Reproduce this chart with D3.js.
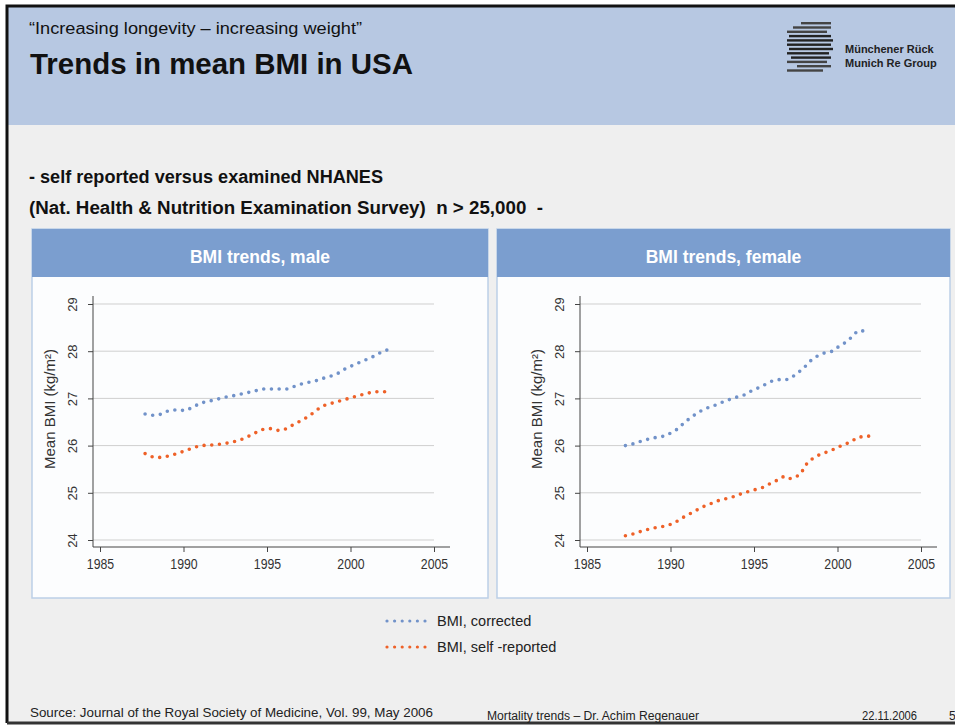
<!DOCTYPE html>
<html>
<head>
<meta charset="utf-8">
<style>
    body { margin: 0; background: #fff; }
    svg { display: block; font-family: Arial, "Liberation Sans", sans-serif; }
    .axis .domain { stroke: #444; }
    .axis .tick line { stroke: #444; }
    .axis .tick text { fill: #333; }
    .x.axis .tick text { font-size: 15px; }
    .y.axis .tick text { font-size: 13px; }
    .grid line { stroke: #cfcfcf; }
</style>
</head>
<body>
<svg width="955" height="725"></svg>

<script src="https://d3js.org/d3.v7.min.js"></script>
<script>
    // x ticks / y ticks
    let xTicks = [1985, 1990, 1995, 2000, 2005]
    let yTicks = [24, 25, 26, 27, 28, 29]

    // male: both series on the same year grid
    let maleYears = [1987.7, 1988.2, 1988.6, 1989.1, 1989.6, 1990.1, 1990.55, 1991.0, 1991.5, 1992.0,
        1992.4, 1992.9, 1993.4, 1993.8, 1994.3, 1994.7, 1995.2, 1995.7, 1996.2, 1996.6,
        1997.0, 1997.5, 1998.0, 1998.4, 1998.9, 1999.3, 1999.7, 2000.2, 2000.6, 2001.0,
        2001.5, 2001.9, 2002.4]
    let maleCorrected = [26.67, 26.64, 26.66, 26.74, 26.76, 26.74, 26.81, 26.90, 26.94, 26.98,
        27.02, 27.05, 27.09, 27.12, 27.16, 27.20, 27.20, 27.20, 27.20, 27.25,
        27.30, 27.34, 27.38, 27.43, 27.48, 27.54, 27.63, 27.71, 27.77, 27.83,
        27.91, 27.99, 28.05]
    let maleSelf = [25.83, 25.75, 25.75, 25.78, 25.83, 25.89, 25.95, 26.00, 26.01, 26.02,
        26.04, 26.07, 26.12, 26.18, 26.27, 26.34, 26.36, 26.32, 26.36, 26.45,
        26.52, 26.62, 26.76, 26.85, 26.90, 26.94, 26.98, 27.03, 27.07, 27.11,
        27.14, 27.14, 27.14]

    // female
    let femaleYearsCorr = [1987.3, 1987.8, 1988.2, 1988.6, 1989.1, 1989.6, 1990.1, 1990.5, 1990.8, 1991.2,
        1991.6, 1992.05, 1992.5, 1992.9, 1993.4, 1993.9, 1994.4, 1994.8, 1995.3, 1995.7,
        1996.1, 1996.55, 1997.0, 1997.4, 1997.8, 1998.1, 1998.4, 1998.8, 1999.2, 1999.7,
        2000.0, 2000.5, 2000.85, 2001.2, 2001.65]
    let femaleCorrected = [26.00, 26.04, 26.09, 26.13, 26.17, 26.20, 26.28, 26.37, 26.48, 26.59,
        26.69, 26.78, 26.83, 26.89, 26.96, 27.02, 27.07, 27.15, 27.23, 27.30,
        27.37, 27.40, 27.40, 27.48, 27.59, 27.69, 27.80, 27.90, 27.96, 28.00,
        28.08, 28.19, 28.30, 28.43, 28.43]
    let femaleYearsSelf = [1987.3, 1987.8, 1988.2, 1988.6, 1989.1, 1989.6, 1990.1, 1990.5, 1990.9, 1991.3,
        1991.7, 1992.1, 1992.5, 1992.9, 1993.4, 1993.9, 1994.3, 1994.6, 1995.0, 1995.5,
        1995.95, 1996.35, 1996.8, 1997.2, 1997.7, 1997.95, 1998.2, 1998.6, 1999.0, 1999.5,
        1999.9, 2000.3, 2000.75, 2001.2, 2001.65, 2002.2]
    let femaleSelf = [24.09, 24.13, 24.18, 24.22, 24.26, 24.29, 24.34, 24.42, 24.51, 24.58,
        24.66, 24.73, 24.78, 24.84, 24.88, 24.93, 24.99, 25.02, 25.06, 25.11,
        25.19, 25.26, 25.35, 25.30, 25.37, 25.49, 25.64, 25.75, 25.82, 25.88,
        25.94, 26.01, 26.07, 26.17, 26.20, 26.20]

    let seriesNames = ["BMI, corrected", "BMI, self -reported"]
    let seriesColors = ["#7192c9", "#ee6128"]

    let svg = d3.select("svg")

    // page frame
    svg.append("rect").attr("x", 7).attr("y", 6).attr("width", 960).attr("height", 716)
        .attr("fill", "#efefef")
    svg.append("rect").attr("x", 7).attr("y", 6).attr("width", 960).attr("height", 119)
        .attr("fill", "#b7c8e2")
    svg.append("path").attr("d", "M7,723 V6 H960").attr("fill", "none")
        .attr("stroke", "#111").attr("stroke-width", 3)
    svg.append("line").attr("x1", 7).attr("x2", 955).attr("y1", 723).attr("y2", 723)
        .attr("stroke", "#333").attr("stroke-width", 3)

    // header text
    svg.append("text").attr("x", 29).attr("y", 34)
        .style("font-size", "16px").attr("fill", "#111")
        .attr("textLength", 333).attr("lengthAdjust", "spacingAndGlyphs")
        .text("\u201cIncreasing longevity \u2013 increasing weight\u201d")
    svg.append("text").attr("x", 30).attr("y", 74)
        .style("font-size", "29px").style("font-weight", "bold").attr("fill", "#111")
        .attr("textLength", 383).attr("lengthAdjust", "spacingAndGlyphs")
        .text("Trends in mean BMI in USA")

    // logo
    let logo = svg.append("g").attr("transform", "translate(787,22)")
    let stripes = [[14, 44], [6, 44], [0, 40], [2, 44], [0, 46], [0, 44], [2, 46], [0, 42], [4, 44], [0, 40], [10, 44], [0, 36]]
    stripes.forEach((s, i) => {
        logo.append("rect").attr("x", s[0]).attr("y", i * 4.3).attr("width", s[1] - s[0]).attr("height", 2.4)
            .attr("fill", i > 2 && i < 9 ? "#222" : "#444")
    })
    logo.append("text").attr("x", 58).attr("y", 31).style("font-size", "11px").style("font-weight", "bold")
        .attr("fill", "#222").text("M\u00fcnchener R\u00fcck")
    logo.append("text").attr("x", 58).attr("y", 45).style("font-size", "11px").style("font-weight", "bold")
        .attr("fill", "#222").text("Munich Re Group")

    // subtitle
    svg.append("text").attr("x", 29).attr("y", 183)
        .style("font-size", "17.5px").style("font-weight", "bold").attr("fill", "#111")
        .attr("textLength", 354).attr("lengthAdjust", "spacingAndGlyphs")
        .text("- self reported versus examined NHANES")
    svg.append("text").attr("x", 29).attr("y", 214)
        .style("font-size", "17.5px").style("font-weight", "bold").attr("fill", "#111")
        .attr("xml:space", "preserve")
        .attr("textLength", 514).attr("lengthAdjust", "spacingAndGlyphs")
        .text("(Nat. Health & Nutrition Examination Survey)  n > 25,000  -")

    function drawChart(panelX, panelW, dx, title, s1x, s1y, s2x, s2y) {
        // panel
        svg.append("rect").attr("x", panelX).attr("y", 229).attr("width", panelW).attr("height", 369)
            .attr("fill", "#fcfdfe").attr("stroke", "#bccfe7").attr("stroke-width", 1.5)
        svg.append("rect").attr("x", panelX).attr("y", 229).attr("width", panelW).attr("height", 48)
            .attr("fill", "#7b9ecf")
        svg.append("text").attr("x", panelX + panelW / 2).attr("y", 263)
            .attr("text-anchor", "middle").style("font-size", "17.5px").style("font-weight", "bold")
            .attr("fill", "#fff").text(title)

        let x = d3.scaleLinear().domain([1985, 2005]).range([100 + dx, 434 + dx])
        let y = d3.scaleLinear().domain([24, 29]).range([540, 304])
        let axisX = 93 + dx

        // grid
        svg.append("g").attr("class", "grid")
            .selectAll("line").data(yTicks).join("line")
            .attr("x1", axisX).attr("x2", x(2005))
            .attr("y1", d => y(d)).attr("y2", d => y(d))

        // x axis
        let gx = svg.append("g").attr("class", "x axis")
            .attr("transform", "translate(0,547)")
            .call(d3.axisBottom(x).tickValues(xTicks).tickSize(5).tickPadding(6).tickFormat(d3.format("d")))
        gx.select(".domain").attr("d", `M${axisX},0H${x(2005) + 16}`)
        gx.selectAll(".tick text").attr("transform", "scale(0.82,1)")

        // y axis
        let gy = svg.append("g").attr("class", "y axis")
            .attr("transform", `translate(${axisX},0)`)
            .call(d3.axisLeft(y).tickValues(yTicks).tickSize(5).tickFormat(d3.format("d")))
        gy.select(".domain").attr("d", "M0,547V296")
        gy.selectAll(".tick text")
            .attr("transform", "rotate(-90)")
            .attr("text-anchor", "middle")
            .attr("x", 0).attr("y", -16).attr("dy", 0)

        svg.append("text")
            .attr("transform", `translate(${55 + dx},409) rotate(-90)`)
            .attr("text-anchor", "middle").style("font-size", "15px").attr("fill", "#333")
            .text("Mean BMI (kg/m\u00b2)")

        let line = d3.line().x(d => x(d[0])).y(d => y(d[1]))
        let data = [d3.zip(s1x, s1y), d3.zip(s2x, s2y)]
        svg.append("g").selectAll("path").data(data).join("path")
            .attr("d", line)
            .attr("fill", "none")
            .attr("stroke", (d, i) => seriesColors[i])
            .attr("stroke-width", 3.6)
            .attr("stroke-linecap", "round")
            .attr("stroke-dasharray", "0 7.7")
    }

    drawChart(32, 456, 0, "BMI trends, male", maleYears, maleCorrected, maleYears, maleSelf)
    drawChart(497, 453, 487, "BMI trends, female", femaleYearsCorr, femaleCorrected, femaleYearsSelf, femaleSelf)

    // legend
    let legend = svg.append("g")
    seriesNames.forEach((name, i) => {
        legend.append("line").attr("x1", 387).attr("x2", 425)
            .attr("y1", 621 + i * 26).attr("y2", 621 + i * 26)
            .attr("stroke", seriesColors[i]).attr("stroke-width", 3.2)
            .attr("stroke-linecap", "round").attr("stroke-dasharray", "0 7.6")
        legend.append("text").attr("x", 437).attr("y", 626 + i * 26)
            .style("font-size", "14.5px").attr("fill", "#222").text(name)
    })

    // footer
    svg.append("text").attr("x", 30).attr("y", 717).style("font-size", "13px").attr("fill", "#222")
        .attr("textLength", 403).attr("lengthAdjust", "spacingAndGlyphs")
        .text("Source: Journal of the Royal Society of Medicine, Vol. 99, May 2006")
    svg.append("text").attr("x", 487).attr("y", 720).style("font-size", "12px").attr("fill", "#222")
        .attr("textLength", 212).attr("lengthAdjust", "spacingAndGlyphs")
        .text("Mortality trends \u2013 Dr. Achim Regenauer")
    svg.append("text").attr("x", 862).attr("y", 720).style("font-size", "12px").attr("fill", "#222")
        .attr("textLength", 55).attr("lengthAdjust", "spacingAndGlyphs").text("22.11.2006")
    svg.append("text").attr("x", 949).attr("y", 720).style("font-size", "12px").attr("fill", "#222")
        .text("5")
</script>
</body>
</html>
